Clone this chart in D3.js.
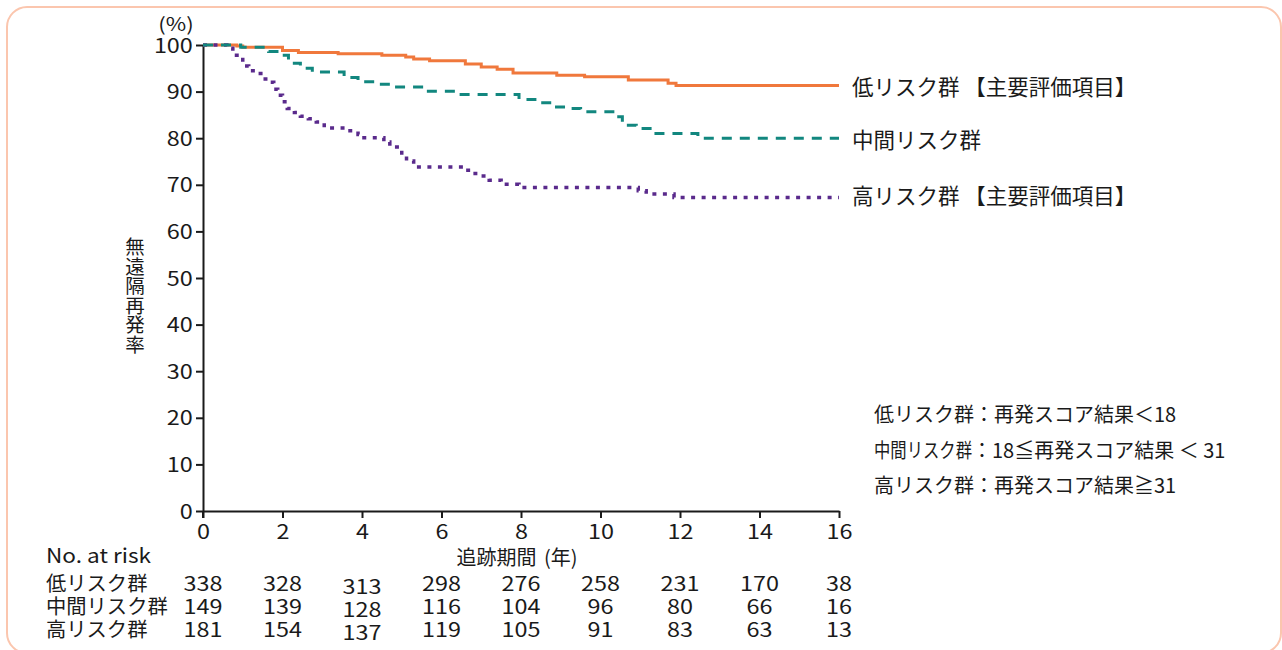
<!DOCTYPE html>
<html lang="ja">
<head>
<meta charset="utf-8">
<script src="https://cdn.jsdelivr.net/npm/d3@7"></script>
<style>
  html, body { margin: 0; padding: 0; background: #ffffff; }
  svg { display: block; }
  text { font-family: "Noto Sans CJK JP", "Noto Sans", sans-serif; fill: #1a1a1a; }
</style>
</head>
<body>
<svg id="chart" width="1282" height="650"></svg>
<script>
// Kaplan–Meier estimates (years, % free of distant recurrence)
const lowTimes  = [0, 0.85, 1.0, 2.0, 2.4, 3.4, 4.5, 5.1, 5.3, 5.7, 6.6, 7.0, 7.4, 7.8, 8.9, 9.6, 10.7, 11.7, 11.9, 16];
const lowSurv   = [100, 99.8, 99.5, 98.8, 98.4, 98.1, 97.8, 97.4, 97.0, 96.6, 95.9, 95.3, 94.8, 94.0, 93.5, 93.2, 92.5, 91.8, 91.3, 91.3];

const midTimes  = [0, 0.95, 1.65, 1.9, 2.15, 2.45, 2.75, 3.55, 3.9, 4.35, 4.8, 5.5, 6.45, 7.95, 8.35, 8.85, 9.15, 9.5, 10.4, 10.55, 10.9, 11.35, 12.45, 16];
const midSurv   = [100, 99.5, 98.6, 97.8, 96.1, 95.0, 94.2, 93.0, 92.1, 91.6, 91.0, 90.1, 89.4, 88.3, 87.6, 86.7, 86.4, 85.7, 84.6, 82.8, 82.1, 81.0, 80.0, 80.0];

const highTimes = [0, 0.6, 0.75, 0.95, 1.0, 1.15, 1.35, 1.5, 1.65, 1.78, 1.88, 2.0, 2.12, 2.3, 2.45, 2.65, 2.85, 3.05, 3.6, 3.9, 4.05, 4.55, 4.7, 5.0, 5.12, 5.3, 6.6, 6.8, 7.0, 7.2, 7.5, 7.95, 10.95, 11.15, 11.85, 16];
const highSurv  = [100, 99.3, 97.8, 97.4, 95.5, 94.5, 93.9, 92.7, 92.0, 90.5, 89.2, 87.8, 86.4, 85.5, 84.7, 84.2, 83.5, 82.2, 81.6, 80.8, 80.1, 79.2, 78.1, 76.3, 75.1, 73.8, 73.1, 72.4, 71.9, 71.0, 70.1, 69.4, 68.7, 68.0, 67.3, 67.3];

// Numbers at risk
const riskTimes = [0, 2, 4, 6, 8, 10, 12, 14, 16];
const riskLow   = [338, 328, 313, 298, 276, 258, 231, 170, 38];
const riskMid   = [149, 139, 128, 116, 104, 96, 80, 66, 16];
const riskHigh  = [181, 154, 137, 119, 105, 91, 83, 63, 13];

const groupNames = ["低リスク群", "中間リスク群", "高リスク群"];
const endLabels  = ["低リスク群 【主要評価項目】", "中間リスク群", "高リスク群 【主要評価項目】"];
// risk-score definitions: [group name, condition]
const defGroups  = ["低リスク群", "中間リスク群", "高リスク群"];
const defRules   = ["：再発スコア結果＜18", "：18≦再発スコア結果 ＜ 31", "：再発スコア結果≧31"];

const xTicks = [0, 2, 4, 6, 8, 10, 12, 14, 16];
const yTicks = [0, 10, 20, 30, 40, 50, 60, 70, 80, 90, 100];

// numerals are set a little wider than the font's natural width
const NUM_SIZE = "19.5px";
const NUM_STRETCH = 1.2;

const svg = d3.select("#chart");

// rounded panel frame
svg.append("rect")
  .attr("x", 7).attr("y", 7)
  .attr("width", 1274).attr("height", 646)
  .attr("rx", 20).attr("ry", 20)
  .attr("fill", "none")
  .attr("stroke", "#fbc6ae")
  .attr("stroke-width", 2);

const x = d3.scaleLinear().domain([0, 16]).range([203, 839]);
const y = d3.scaleLinear().domain([0, 100]).range([511, 45]);

// axes
const xAxis = svg.append("g")
  .attr("transform", `translate(0,${y(0)})`)
  .call(d3.axisBottom(x).tickValues(xTicks).tickSize(7).tickPadding(4).tickSizeOuter(0));
const yAxis = svg.append("g")
  .attr("transform", `translate(${x(0)},0)`)
  .call(d3.axisLeft(y).tickValues(yTicks).tickSize(7).tickPadding(1.5).tickSizeOuter(0));

[xAxis, yAxis].forEach(g => {
  g.select(".domain").attr("stroke", "#1a1a1a").attr("stroke-width", 2);
  g.selectAll(".tick line").attr("stroke", "#1a1a1a").attr("stroke-width", 2);
  g.selectAll(".tick text")
    .attr("fill", "#1a1a1a")
    .attr("transform", `scale(${NUM_STRETCH},1)`)
    .style("font-family", '"Noto Sans CJK JP", "Noto Sans", sans-serif')
    .style("font-size", NUM_SIZE);
});
yAxis.selectAll(".tick text").attr("dy", "0.36em");
xAxis.selectAll(".tick text").attr("dy", "0.85em");

// y axis line runs slightly past the x axis
svg.append("line")
  .attr("x1", x(0)).attr("x2", x(0))
  .attr("y1", y(0)).attr("y2", y(0) + 7)
  .attr("stroke", "#1a1a1a").attr("stroke-width", 2);

// axis titles
svg.append("text")
  .attr("transform", `translate(176,23) scale(1.2,1)`)
  .attr("text-anchor", "middle").attr("dominant-baseline", "central")
  .style("font-size", "18.5px")
  .text("(%)");

svg.append("text")
  .attr("x", 135).attr("y", 237)
  .style("writing-mode", "vertical-rl")
  .style("text-orientation", "upright")
  .style("font-size", "19.5px")
  .text("無遠隔再発率");

svg.append("text")
  .attr("x", 517).attr("y", 556)
  .attr("text-anchor", "middle").attr("dominant-baseline", "central")
  .style("font-size", "20px")
  .style("word-spacing", "3px")
  .text("追跡期間 (年)");

// survival curves
const line = d3.line()
  .x(d => x(d[0]))
  .y(d => y(d[1]))
  .curve(d3.curveStepAfter);

const curves = [
  { t: lowTimes,  s: lowSurv,  color: "#f0783c", width: 3,   dash: null },
  { t: highTimes, s: highSurv, color: "#5a2a8c", width: 3.5, dash: "4,6.5" },
  { t: midTimes,  s: midSurv,  color: "#12877f", width: 3,   dash: "10,8" }
];

curves.forEach(c => {
  svg.append("path")
    .datum(d3.zip(c.t, c.s))
    .attr("d", line)
    .attr("fill", "none")
    .attr("stroke", c.color)
    .attr("stroke-width", c.width)
    .attr("stroke-dasharray", c.dash);
});

// labels at the right end of each curve
const endValues = [lowSurv[lowSurv.length - 1], midSurv[midSurv.length - 1], highSurv[highSurv.length - 1]];
svg.append("g").selectAll("text")
  .data(endLabels)
  .join("text")
  .attr("x", 852)
  .attr("y", (d, i) => y(endValues[i]) + [0, 0, -3][i])
  .attr("dominant-baseline", "central")
  .style("font-size", "21.5px")
  .text(d => d);

// risk-score definitions; the longer group name is condensed to the same width
const defY = [413, 449, 484];
defGroups.forEach((g, i) => {
  const t = svg.append("text")
    .attr("x", 874).attr("y", defY[i])
    .attr("dominant-baseline", "central")
    .style("font-size", "20px");
  const name = t.append("tspan").text(g);
  if (i === 1) name.attr("textLength", 98).attr("lengthAdjust", "spacingAndGlyphs");
  t.append("tspan").text(defRules[i]);
});

// number at risk table
svg.append("text")
  .attr("transform", "translate(46,554) scale(1.13,1)")
  .attr("dominant-baseline", "central")
  .style("font-size", "20px")
  .text("No. at risk");

const riskRows = [riskLow, riskMid, riskHigh];
const rowY = [582, 605, 628];
riskRows.forEach((row, r) => {
  svg.append("text")
    .attr("x", 46).attr("y", rowY[r])
    .attr("dominant-baseline", "central")
    .style("font-size", "20.3px")
    .text(groupNames[r]);
  svg.append("g").selectAll("text")
    .data(row)
    .join("text")
    .attr("transform", (d, i) => `translate(${x(riskTimes[i])},${rowY[r] + (i === 2 ? 3 : 0)}) scale(${NUM_STRETCH},1)`)
    .attr("text-anchor", "middle")
    .attr("dominant-baseline", "central")
    .style("font-size", NUM_SIZE)
    .text(d => d);
});
</script>
</body>
</html>
